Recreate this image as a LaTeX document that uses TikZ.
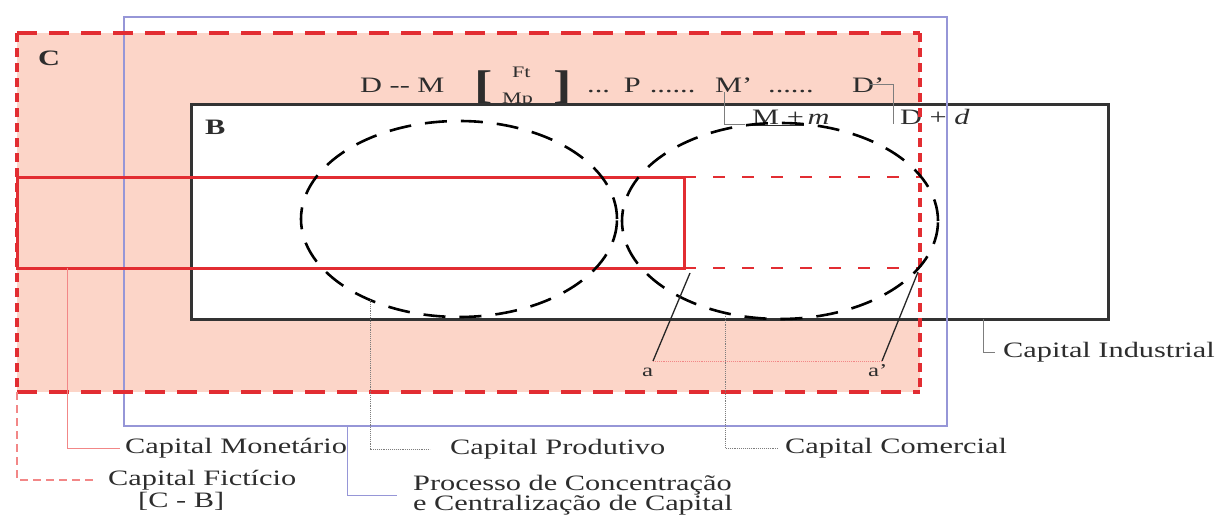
\documentclass[tikz,border=0pt]{standalone}
\usepackage{fontspec}
\setmainfont[FakeStretch=1.38]{Liberation Serif}
\usetikzlibrary{positioning}
\definecolor{pinkC} {RGB}{252,213,200}
\definecolor{redC}  {RGB}{226, 45, 50}
\definecolor{lredC} {RGB}{242,135,135}
\definecolor{blueC} {RGB}{150,150,215}
\definecolor{txtC}  {RGB}{ 45, 45, 45}
\definecolor{leadC} {RGB}{125,125,125}
\tikzset{
  cedge/.style = {draw=redC, line width=3.2pt},
  bbox/.style  = {draw=black!80, line width=3pt, fill=white},
  pbox/.style  = {draw=blueC, line width=1.3pt},
  mbox/.style  = {draw=redC, line width=3pt},
  ell/.style   = {draw=black, line width=2.6pt, dash pattern=on 22pt off 14pt},
  lbl/.style   = {font=\fontsize{22}{22}\selectfont, text=txtC, inner sep=0pt},
  frm/.style   = {lbl, anchor=base west},
  lead/.style  = {line width=0.9pt, draw=leadC},
  dotl/.style  = {lead, densely dotted},
}

\begin{document}
\begin{tikzpicture}[x=1pt, y=-1pt]
\useasboundingbox (0,0) rectangle (1218,514);

% ---- C area -----------------------------------------------------------------
\fill[pinkC] (17,33) rectangle (920,392);
\node[frm, font=\fontsize{22}{22}\selectfont\bfseries] (labC) at (38,65) {C};

% ---- Circuit formula (B covers its foot) -------------------------------------
\node[frm] (fDM) at (360,92) {D -{}- M};
\node[frm, font=\fontsize{40}{40}\selectfont\bfseries] (fBrL) at (474,98) {[};
\node[frm, font=\fontsize{16}{16}\selectfont] (fFt) at (512,77) {Ft};
\node[frm, font=\fontsize{16}{16}\selectfont] (fMp) at (502,103) {Mp};
\node[frm, font=\fontsize{40}{40}\selectfont\bfseries] (fBrR) at (553,98) {]};
\node[frm] (fP) at (587,92) {...\hspace{14pt}P\hspace{9pt}......};
\node[frm] (fMl) at (715,92) {M’};
\node[frm] (fDots) at (768,92) {......};
\node[frm] (fDl) at (852,92) {D’};

% ---- B: capital industrial --------------------------------------------------
\draw[bbox] (191,104) rectangle (1108,319);
\node[frm, font=\fontsize{22}{22}\selectfont\bfseries] (labB) at (205,134) {B};

\node[frm] (fMm) at (752,124) {\underline{M +}\,\textit{m}};
\node[frm, inner xsep=7pt] (fDd) at (893,124) {D + \textit{d}};
\draw[lead] ([xshift=9pt]fMl.south west) |- ([xshift=-7pt]fMm.base west);
\draw[lead] ([xshift=-14pt]fDl.east) -| (fDd.base west);

% ---- concentration frame ----------------------------------------------------
\draw[pbox] (124,17) rectangle (947,426);

% ---- C border (dashes shorter on the sides) ---------------------------------
\draw[cedge, dash pattern=on 20pt off 12pt] (17,33) -- (920,33) (17,392) -- (920,392);
\draw[cedge, dash pattern=on 9pt off 6pt] (17,33) -- (17,392) (920,33) -- (920,392);

% ---- money capital band -----------------------------------------------------
\draw[mbox] (17,177) rectangle (684,268);
\draw[draw=redC, line width=2.8pt, dash pattern=on 12pt off 17pt]
  (684,177) -- (920,177) (684,268) -- (920,268);

% ---- productive and commercial capital --------------------------------------
\draw[ell] (459,219) ellipse [x radius=158pt, y radius=98pt];
\draw[ell] (780,221) ellipse [x radius=158pt, y radius=98pt];

% ---- a -- a' ----------------------------------------------------------------
\coordinate (aTop)  at (690,273);
\coordinate (aEnd)  at (653,361);
\coordinate (a2Top) at (918,272);
\coordinate (a2End) at (882,361);
\draw[line width=1.3pt, black!85] (aTop) -- (aEnd);
\draw[line width=1.3pt, black!85] (a2Top) -- (a2End);
\draw[draw=lredC, line width=0.9pt, densely dotted] (aEnd) -- (a2End);
\node[frm, font=\fontsize{18}{18}\selectfont] (la)  at (642,376) {a};
\node[frm, font=\fontsize{18}{18}\selectfont] (la2) at (868,376) {a’};

% ---- legend labels ----------------------------------------------------------
\coordinate (monP)  at (67,268);
\coordinate (ficP)  at (17,392);
\coordinate (prodP) at (370,300);
\coordinate (comP)  at (725,314);
\coordinate (procP) at (347,426);
\coordinate (indP)  at (983,319);

\node[lbl, anchor=west] (mon)   at (125,448) {Capital Monetário};
\node[lbl, anchor=west] (fic)   at (108,480) {Capital Fictício};
\node[frm] (ficCB) at (138,507) {[C - B]};
\node[lbl, anchor=west] (prod)  at (450,449) {Capital Produtivo};
\node[lbl, anchor=west] (com)   at (785,448) {Capital Comercial};
\node[lbl, anchor=west, align=left, font=\fontsize{22}{20}\selectfont] (proc) at (413,495)
  {Processo de Concentração\\e Centralização de Capital};
\node[lbl, anchor=west] (ind)   at (1003,352) {Capital Industrial};

\draw[lead, draw=lredC, shorten >=5pt] (monP) |- (mon.west);
\draw[lead, draw=lredC, line width=1.3pt, dash pattern=on 8pt off 5pt, shorten >=15pt]
  (ficP) |- (fic.west);
\draw[dotl, shorten >=20pt] (prodP) |- (prod.west);
\draw[dotl, shorten >=7pt] (comP) |- (com.west);
\draw[lead, draw=blueC, shorten >=16pt] (procP) |- (proc.west);
\draw[lead, shorten >=8pt] (indP) |- (ind.west);

\end{tikzpicture}
\end{document}
